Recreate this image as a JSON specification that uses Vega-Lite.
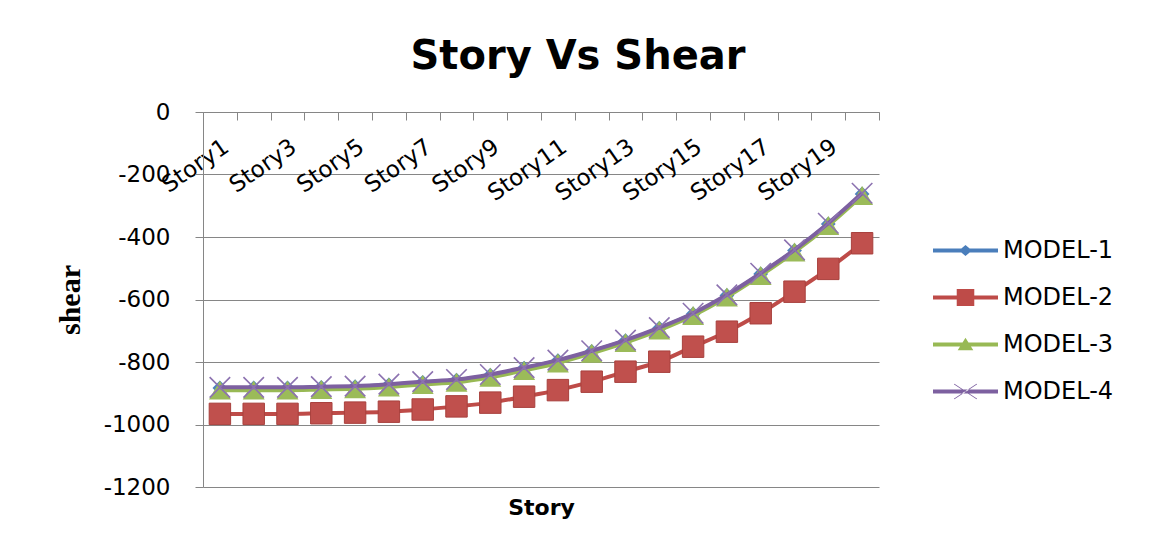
{
  "$schema": "https://vega.github.io/schema/vega-lite/v6.json",
  "autosize": {"type": "none"},
  "padding": {"left": 203, "top": 112, "right": 274, "bottom": 63},
  "width": 676,
  "height": 375,
  "background": "white",
  "config": {
    "view": {"stroke": null},
    "font": "DejaVu Sans"
  },
  "title": {
    "text": "Story Vs Shear",
    "font": "DejaVu Sans",
    "fontSize": 40,
    "fontWeight": "bold",
    "color": "#000000",
    "anchor": "middle",
    "frame": "group",
    "baseline": "alphabetic",
    "offset": -8,
    "dx": 37
  },
  "data": {
    "values": [
      {"Story": "Story1", "Model": "MODEL-1", "Shear": -883},
      {"Story": "Story2", "Model": "MODEL-1", "Shear": -883},
      {"Story": "Story3", "Model": "MODEL-1", "Shear": -883},
      {"Story": "Story4", "Model": "MODEL-1", "Shear": -881},
      {"Story": "Story5", "Model": "MODEL-1", "Shear": -879},
      {"Story": "Story6", "Model": "MODEL-1", "Shear": -873},
      {"Story": "Story7", "Model": "MODEL-1", "Shear": -865},
      {"Story": "Story8", "Model": "MODEL-1", "Shear": -858},
      {"Story": "Story9", "Model": "MODEL-1", "Shear": -842},
      {"Story": "Story10", "Model": "MODEL-1", "Shear": -820},
      {"Story": "Story11", "Model": "MODEL-1", "Shear": -796},
      {"Story": "Story12", "Model": "MODEL-1", "Shear": -766},
      {"Story": "Story13", "Model": "MODEL-1", "Shear": -732},
      {"Story": "Story14", "Model": "MODEL-1", "Shear": -692},
      {"Story": "Story15", "Model": "MODEL-1", "Shear": -646},
      {"Story": "Story16", "Model": "MODEL-1", "Shear": -587},
      {"Story": "Story17", "Model": "MODEL-1", "Shear": -518},
      {"Story": "Story18", "Model": "MODEL-1", "Shear": -443},
      {"Story": "Story19", "Model": "MODEL-1", "Shear": -358},
      {"Story": "Story20", "Model": "MODEL-1", "Shear": -262},
      {"Story": "Story1", "Model": "MODEL-2", "Shear": -966},
      {"Story": "Story2", "Model": "MODEL-2", "Shear": -966},
      {"Story": "Story3", "Model": "MODEL-2", "Shear": -966},
      {"Story": "Story4", "Model": "MODEL-2", "Shear": -964},
      {"Story": "Story5", "Model": "MODEL-2", "Shear": -962},
      {"Story": "Story6", "Model": "MODEL-2", "Shear": -959},
      {"Story": "Story7", "Model": "MODEL-2", "Shear": -952},
      {"Story": "Story8", "Model": "MODEL-2", "Shear": -942},
      {"Story": "Story9", "Model": "MODEL-2", "Shear": -930},
      {"Story": "Story10", "Model": "MODEL-2", "Shear": -911},
      {"Story": "Story11", "Model": "MODEL-2", "Shear": -890},
      {"Story": "Story12", "Model": "MODEL-2", "Shear": -863},
      {"Story": "Story13", "Model": "MODEL-2", "Shear": -831},
      {"Story": "Story14", "Model": "MODEL-2", "Shear": -799},
      {"Story": "Story15", "Model": "MODEL-2", "Shear": -751},
      {"Story": "Story16", "Model": "MODEL-2", "Shear": -703},
      {"Story": "Story17", "Model": "MODEL-2", "Shear": -644},
      {"Story": "Story18", "Model": "MODEL-2", "Shear": -575},
      {"Story": "Story19", "Model": "MODEL-2", "Shear": -502},
      {"Story": "Story20", "Model": "MODEL-2", "Shear": -420},
      {"Story": "Story1", "Model": "MODEL-3", "Shear": -890},
      {"Story": "Story2", "Model": "MODEL-3", "Shear": -890},
      {"Story": "Story3", "Model": "MODEL-3", "Shear": -890},
      {"Story": "Story4", "Model": "MODEL-3", "Shear": -888},
      {"Story": "Story5", "Model": "MODEL-3", "Shear": -886},
      {"Story": "Story6", "Model": "MODEL-3", "Shear": -880},
      {"Story": "Story7", "Model": "MODEL-3", "Shear": -872},
      {"Story": "Story8", "Model": "MODEL-3", "Shear": -865},
      {"Story": "Story9", "Model": "MODEL-3", "Shear": -849},
      {"Story": "Story10", "Model": "MODEL-3", "Shear": -827},
      {"Story": "Story11", "Model": "MODEL-3", "Shear": -803},
      {"Story": "Story12", "Model": "MODEL-3", "Shear": -772},
      {"Story": "Story13", "Model": "MODEL-3", "Shear": -738},
      {"Story": "Story14", "Model": "MODEL-3", "Shear": -698},
      {"Story": "Story15", "Model": "MODEL-3", "Shear": -651},
      {"Story": "Story16", "Model": "MODEL-3", "Shear": -592},
      {"Story": "Story17", "Model": "MODEL-3", "Shear": -523},
      {"Story": "Story18", "Model": "MODEL-3", "Shear": -448},
      {"Story": "Story19", "Model": "MODEL-3", "Shear": -363},
      {"Story": "Story20", "Model": "MODEL-3", "Shear": -267},
      {"Story": "Story1", "Model": "MODEL-4", "Shear": -881},
      {"Story": "Story2", "Model": "MODEL-4", "Shear": -881},
      {"Story": "Story3", "Model": "MODEL-4", "Shear": -881},
      {"Story": "Story4", "Model": "MODEL-4", "Shear": -879},
      {"Story": "Story5", "Model": "MODEL-4", "Shear": -877},
      {"Story": "Story6", "Model": "MODEL-4", "Shear": -871},
      {"Story": "Story7", "Model": "MODEL-4", "Shear": -863},
      {"Story": "Story8", "Model": "MODEL-4", "Shear": -856},
      {"Story": "Story9", "Model": "MODEL-4", "Shear": -840},
      {"Story": "Story10", "Model": "MODEL-4", "Shear": -818},
      {"Story": "Story11", "Model": "MODEL-4", "Shear": -794},
      {"Story": "Story12", "Model": "MODEL-4", "Shear": -764},
      {"Story": "Story13", "Model": "MODEL-4", "Shear": -730},
      {"Story": "Story14", "Model": "MODEL-4", "Shear": -690},
      {"Story": "Story15", "Model": "MODEL-4", "Shear": -644},
      {"Story": "Story16", "Model": "MODEL-4", "Shear": -585},
      {"Story": "Story17", "Model": "MODEL-4", "Shear": -516},
      {"Story": "Story18", "Model": "MODEL-4", "Shear": -441},
      {"Story": "Story19", "Model": "MODEL-4", "Shear": -356},
      {"Story": "Story20", "Model": "MODEL-4", "Shear": -260}
    ]
  },
  "encoding": {
    "x": {
      "field": "Story",
      "type": "ordinal",
      "scale": {
        "type": "band",
        "paddingInner": 0,
        "paddingOuter": 0,
        "domain": ["Story1","Story2","Story3","Story4","Story5","Story6","Story7","Story8","Story9","Story10","Story11","Story12","Story13","Story14","Story15","Story16","Story17","Story18","Story19","Story20"]
      },
      "axis": {
        "orient": "bottom",
        "offset": -375,
        "domain": true,
        "domainColor": "#868686",
        "domainWidth": 1,
        "ticks": true,
        "tickBand": "extent",
        "tickSize": 8,
        "tickColor": "#868686",
        "grid": false,
        "labelAngle": -35,
        "labelAlign": "right",
        "labelBaseline": "middle",
        "labelPadding": 24,
        "labelOffset": 6,
        "labelFont": "DejaVu Sans",
        "labelFontSize": 23,
        "labelColor": "#000000",
        "labelOverlap": false,
        "labelExpr": "toNumber(substring(datum.label, 5)) % 2 == 1 ? datum.label : ''",
        "title": "Story",
        "titleFont": "DejaVu Sans",
        "titleFontSize": 22,
        "titleFontWeight": "bold",
        "titleColor": "#000000",
        "titleBaseline": "top",
        "titleY": 385
      }
    },
    "y": {
      "field": "Shear",
      "type": "quantitative",
      "scale": {"domain": [-1200, 0], "nice": false, "zero": false},
      "axis": {
        "values": [-1200, -1000, -800, -600, -400, -200, 0],
        "labelExpr": "'' + datum.value",
        "grid": true,
        "gridColor": "#868686",
        "gridWidth": 1,
        "domain": true,
        "domainColor": "#868686",
        "ticks": true,
        "tickSize": 8,
        "tickColor": "#868686",
        "labelPadding": 25,
        "labelFont": "DejaVu Sans",
        "labelFontSize": 23,
        "labelColor": "#000000",
        "title": "shear",
        "titleFont": "Liberation Serif",
        "titleFontSize": 30,
        "titleFontWeight": "bold",
        "titleColor": "#000000",
        "titlePadding": 18
      }
    }
  },
  "layer": [
    {
      "transform": [{"filter": "datum.Model == 'MODEL-1'"}],
      "mark": {"type": "line", "strokeWidth": 4, "interpolate": "monotone", "color": "#4A7EBB"},
      "encoding": {}
    },
    {
      "transform": [{"filter": "datum.Model == 'MODEL-1'"}],
      "mark": {"type": "point", "shape": "diamond", "filled": true, "size": 220, "opacity": 1, "color": "#4F81BD"}
    },
    {
      "transform": [{"filter": "datum.Model == 'MODEL-2'"}],
      "mark": {"type": "line", "strokeWidth": 4, "interpolate": "monotone", "color": "#BE4B48"},
      "encoding": {}
    },
    {
      "transform": [{"filter": "datum.Model == 'MODEL-2'"}],
      "mark": {"type": "point", "shape": "square", "filled": true, "size": 460, "opacity": 1, "color": "#C0504D", "stroke": "#A8403D", "strokeWidth": 1}
    },
    {
      "transform": [{"filter": "datum.Model == 'MODEL-3'"}],
      "mark": {"type": "line", "strokeWidth": 4, "interpolate": "monotone", "color": "#98B954"},
      "encoding": {}
    },
    {
      "transform": [{"filter": "datum.Model == 'MODEL-3'"}],
      "mark": {"type": "point", "shape": "triangle-up", "filled": true, "size": 480, "opacity": 1, "color": "#9BBB59"}
    },
    {
      "transform": [{"filter": "datum.Model == 'MODEL-4'"}],
      "mark": {"type": "line", "strokeWidth": 4, "interpolate": "monotone", "color": "#7D60A0"},
      "encoding": {}
    },
    {
      "transform": [{"filter": "datum.Model == 'MODEL-4'"}],
      "mark": {"type": "point", "shape": "M-1,-1L1,1M-1,1L1,-1", "filled": false, "size": 420, "strokeWidth": 1.6, "opacity": 1, "color": "#8C72B0"}
    },
    {
      "mark": {"type": "point", "filled": true, "size": 0},
      "encoding": {
        "color": {
          "field": "Model",
          "type": "nominal",
          "scale": {
            "domain": ["MODEL-1", "MODEL-2", "MODEL-3", "MODEL-4"],
            "range": ["#4A7EBB", "#BE4B48", "#98B954", "#7D60A0"]
          },
          "legend": {
            "title": null,
            "orient": "none",
            "legendX": 730,
            "legendY": 106,
            "symbolSize": 4225,
            "symbolStrokeWidth": 0,
            "symbolOpacity": 1,
            "labelFont": "DejaVu Sans",
            "labelFontSize": 24,
            "labelColor": "#000000",
            "labelOffset": 5,
            "rowPadding": 2
          }
        },
        "shape": {
          "field": "Model",
          "type": "nominal",
          "scale": {
            "domain": ["MODEL-1", "MODEL-2", "MODEL-3", "MODEL-4"],
            "range": [
              "M-1,-0.06H1V0.06H-1Z M0,-0.17L0.2,0L0,0.17L-0.2,0Z",
              "M-1,-0.06H1V0.06H-1Z M-0.27,-0.26H0.27V0.26H-0.27Z",
              "M-1,-0.06H1V0.06H-1Z M0,-0.21L0.24,0.18L-0.24,0.18Z",
              "M-1,-0.06H1V0.06H-1Z M-0.36,-0.22L-0.34,-0.24L0.36,0.22L0.34,0.24Z M-0.36,0.22L-0.34,0.24L0.36,-0.22L0.34,-0.24Z"
            ]
          },
          "legend": {
            "title": null,
            "orient": "none",
            "legendX": 730,
            "legendY": 106,
            "symbolSize": 4225,
            "symbolStrokeWidth": 0,
            "symbolOpacity": 1,
            "labelFont": "DejaVu Sans",
            "labelFontSize": 24,
            "labelColor": "#000000",
            "labelOffset": 5,
            "rowPadding": 2
          }
        }
      }
    }
  ]
}
